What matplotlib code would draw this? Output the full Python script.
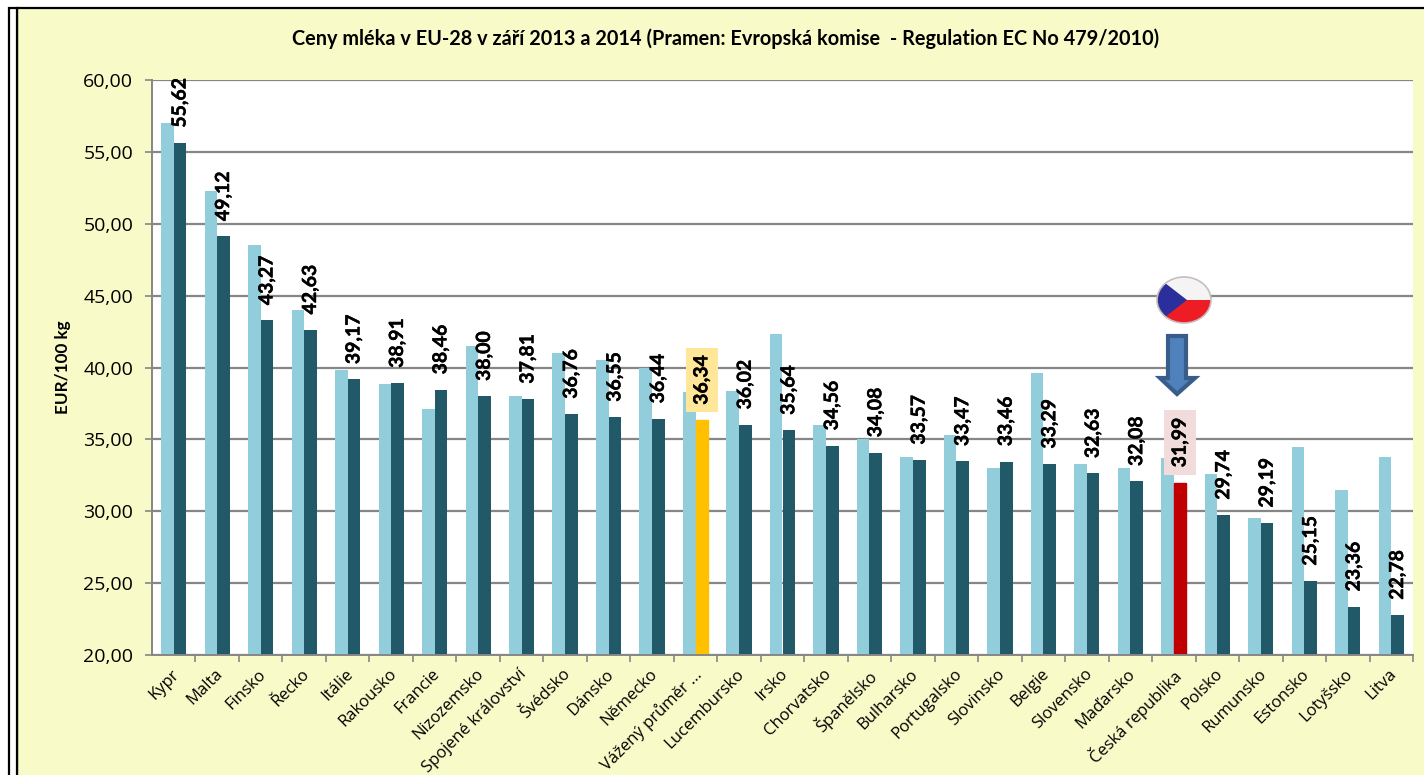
#!/usr/bin/env python
"""Ceny mleka v EU-28, zari 2013 a 2014 - grouped bars with rotated labels."""
import numpy as np
import matplotlib
matplotlib.use("Agg")
import matplotlib.pyplot as plt
import matplotlib.patheffects as pe
from matplotlib.patches import Ellipse, Polygon, Rectangle
from matplotlib.transforms import Affine2D

plt.rcParams["font.family"] = ["Lato", "DejaVu Sans"]

COUNTRIES = ["Kypr", "Malta", "Finsko", "Řecko", "Itálie", "Rakousko", "Francie",
             "Nizozemsko", "Spojené království", "Švédsko", "Dánsko", "Německo",
             "Vážený průměr ...", "Lucembursko", "Irsko", "Chorvatsko", "Španělsko",
             "Bulharsko", "Portugalsko", "Slovinsko", "Belgie", "Slovensko",
             "Maďarsko", "Česká republika", "Polsko", "Rumunsko", "Estonsko",
             "Lotyšsko", "Litva"]
SEP_2013 = [57.0, 52.3, 48.5, 44.0, 39.8, 38.85, 37.1, 41.5, 38.0, 41.0, 40.5, 40.0,
            38.3, 38.4, 42.3, 36.0, 35.0, 33.8, 35.3, 33.0, 39.6, 33.3, 33.0, 33.7,
            32.6, 29.5, 34.5, 31.5, 33.8]
SEP_2014 = [55.62, 49.12, 43.27, 42.63, 39.17, 38.91, 38.46, 38.00, 37.81, 36.76,
            36.55, 36.44, 36.34, 36.02, 35.64, 34.56, 34.08, 33.57, 33.47, 33.46,
            33.29, 32.63, 32.08, 31.99, 29.74, 29.19, 25.15, 23.36, 22.78]
Y_TICKS = [20, 25, 30, 35, 40, 45, 50, 55, 60]

W, H = 1424, 775
BG = "#F8FBC8"
LIGHT = "#92CDDC"
DARK = "#215968"
GRID = "#868686"
SPECIAL = {"Vážený průměr ...": ("#FFC000", "#FFE699"),
           "Česká republika": ("#C00000", "#F2DCDB")}

fig = plt.figure(figsize=(W / 100, H / 100), dpi=100, facecolor="white")
# pixel coordinates of the reference, y downwards
px = Affine2D().scale(1 / W, -1 / H).translate(0, 1) + fig.transFigure

fig.add_artist(Rectangle((17, 8), W, H, transform=px, facecolor=BG,
                         edgecolor="black", linewidth=1.6, zorder=-2))
fig.add_artist(Rectangle((9, 8), 8, H, transform=px, facecolor="white",
                         edgecolor="black", linewidth=1.6, zorder=-2))

ax = fig.add_axes([152 / W, 1 - 655 / H, (1413 - 152) / W, (655 - 80) / H])
ax.set_facecolor("white")

x = np.arange(len(COUNTRIES))
width = 0.29
ax.bar(x - width / 2, SEP_2013, width, color=LIGHT, zorder=2)
bars = ax.bar(x + width / 2, SEP_2014, width, color=DARK, zorder=2)

for i, name in enumerate(COUNTRIES):
    box = None
    if name in SPECIAL:
        bars[i].set_color(SPECIAL[name][0])
        box = dict(boxstyle="square,pad=0.38", facecolor=SPECIAL[name][1], edgecolor="none")
    ax.annotate(f"{SEP_2014[i]:.2f}".replace(".", ","),
                (x[i] + width / 2, SEP_2014[i]), xytext=(0, 11),
                textcoords="offset points", rotation=90, ha="center", va="bottom",
                fontsize=14, fontweight="bold", color="black", bbox=box, zorder=4,
                annotation_clip=False,
                path_effects=[pe.withStroke(linewidth=0.3, foreground="black")])

ax.set_xlim(-0.5, len(COUNTRIES) - 0.5)
ax.set_ylim(20, 60)
ax.set_yticks(Y_TICKS)
ax.set_yticklabels([f"{v:.2f}".replace(".", ",") for v in Y_TICKS], fontsize=14,
                   family="Open Sans")
ax.yaxis.grid(True, color=GRID, linewidth=1.6, zorder=1)
ax.set_axisbelow(True)
ax.tick_params(axis="y", length=5, width=1.2, color=GRID, pad=8.5)

ax.set_xticks(x + 0.5, minor=False)
ax.set_xticklabels([])
ax.tick_params(axis="x", length=5, width=1.2, color=GRID)
for i, name in enumerate(COUNTRIES):
    ax.annotate(name, (x[i], 20), xytext=(-2, -8), textcoords="offset points",
                rotation=45, rotation_mode="anchor", ha="right", va="top",
                fontsize=12, family="Open Sans", color="black", annotation_clip=False)

for side in ("top", "right"):
    ax.spines[side].set_visible(False)
for side in ("left", "bottom"):
    ax.spines[side].set_color(GRID)
    ax.spines[side].set_linewidth(1.4)

fig.text(726 / W, 1 - 39 / H, "Ceny mléka v EU-28 v září 2013 a 2014 (Pramen: Evropská komise  - "
         "Regulation EC No 479/2010)", ha="center", va="center", fontsize=14.3,
         fontweight="bold")
fig.text(63 / W, 1 - 367 / H, "EUR/100 kg", rotation=90, ha="center", va="center",
         fontsize=12.3, fontweight="bold")

# Czech flag badge
clip = Ellipse((1184, 300), 54, 46, transform=px)
fig.add_artist(Rectangle((1156, 276), 56, 24, transform=px, facecolor="#F4F4F4",
                         edgecolor="none", clip_path=clip, zorder=5))
fig.add_artist(Rectangle((1156, 300), 56, 24, transform=px, facecolor="#EE1C25",
                         edgecolor="none", clip_path=clip, zorder=5))
fig.add_artist(Polygon([(1156, 276), (1187, 300), (1156, 324)], transform=px,
                       facecolor="#2B2F9B", edgecolor="none", clip_path=clip, zorder=5))
fig.add_artist(Ellipse((1184, 300), 54, 46, transform=px, facecolor="none",
                       edgecolor="#C8BEBE", linewidth=1.2, zorder=5))

# arrow pointing at the Czech bar
fig.add_artist(Polygon([(1168, 336), (1186, 336), (1186, 378), (1195, 378),
                        (1177, 394), (1160, 378), (1168, 378)], transform=px,
                       facecolor="#4F81BD", edgecolor="#385D8A", linewidth=3, zorder=5))

fig.savefig("out.png", dpi=100)
